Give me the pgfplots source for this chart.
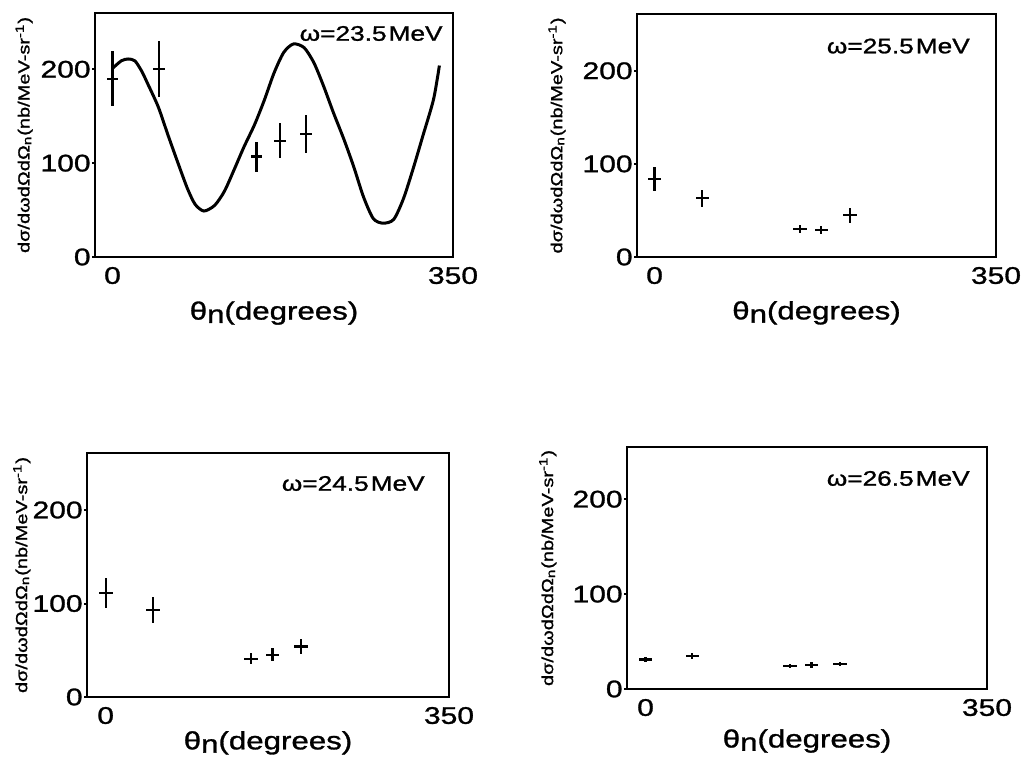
\documentclass[border=0pt]{standalone}
\usepackage{fontspec}
\setmainfont{Liberation Sans}[FakeStretch=1.25, FakeBold=1.2]
\usepackage{pgfplots}
\pgfplotsset{compat=1.18}
\pgfplotsset{
  panel/.style={
    scale only axis,
    anchor=south west,
    xmin=-18, xmax=350, ymin=0,
    axis line style={line width=1pt},
    xtick={0,350}, xticklabels={0,350},
    ytick={0,100,200}, yticklabels={0,100,200},
    tick align=outside,
    major tick length=1.5pt,
    xtick style={draw=none},
    ytick style={line width=1pt, black},
    xtick pos=bottom, ytick pos=left,
    ticklabel style={font=\fontsize{12}{14}\selectfont},
    yticklabel style={inner sep=0.5pt},
    xlabel={θ\raisebox{-0.25ex}{n}(degrees)},
    xlabel style={font=\fontsize{12.5}{14}\selectfont, at={(axis description cs:0.5,-0.23)}, anchor=center},
    ylabel={dσ/dωdΩdΩ\textsubscript{n}(nb/MeV-sr\textsuperscript{-1})},
    ylabel style={font=\fontsize{8}{9}\selectfont, anchor=center},
  },
  data/.style={draw=none, mark=none, forget plot,
    error bars/.cd, x dir=both, x explicit, y dir=both, y explicit,
    error mark=none, error bar style={line width=1.1pt, draw=black, solid}},
}
\tikzset{lbl/.style={anchor=east, inner sep=0pt, font=\fontsize{10.5}{12}\selectfont}}
\pgfplotstableread{
x y ex ey
0 190 6 29
48 200 6 30
148 107 6 16
172 124 6 19
199 131 6 20
}\dataA
\pgfplotstableread{
x y ex ey
0 84 7 13
49 63 7 9
149 30 7 4
171 29 7 4
200 45 7 8
}\dataB
\pgfplotstableread{
x y ex ey
0 111 7 16
48 93 7 14
148 41 7 6
170 45 7 7
199 54 7 8
}\dataC
\pgfplotstableread{
x y ex ey
0 31 7 3
48 35 7 3
148 24 7 2
170 25 7 3
199 26.5 7 2
}\dataD
\begin{document}
\begin{tikzpicture}
\useasboundingbox (0pt,0pt) rectangle (511pt,379pt);
% top left
\begin{axis}[panel, at={(47.5pt,250.5pt)}, width=179pt, height=122pt, ymax=260,
  ylabel style={at={(axis description cs:-0.198,0.5)}}]
\addplot[black, line width=1.5pt, smooth, tension=0.45] coordinates {
(0,201) (9,209) (16,211) (23,209) (30,198) (36,185) (47,160) (57,130) (67,101)
(77,73) (85,56) (94,49) (105,55) (115,70) (125,93) (135,117) (146,141) (156,167)
(166,196) (176,218) (186,227) (197,223) (207,207) (217,182) (227,154) (238,125)
(248,96) (258,64) (268,41) (278,36) (289,40) (299,62) (309,94) (319,129) (330,168) (336,204)};
\addplot[data] table[x=x, y=y, x error=ex, y error=ey] {\dataA};
\node[lbl] at (axis description cs:0.972,0.916) {ω=23.5\kern1ptMeV};
\end{axis}
% top right
\begin{axis}[panel, at={(318.5pt,250.5pt)}, width=179.5pt, height=121.5pt, ymax=261,
  ylabel style={at={(axis description cs:-0.223,0.5)}}]
\addplot[data] table[x=x, y=y, x error=ex, y error=ey] {\dataB};
\node[lbl] at (axis description cs:0.928,0.868) {ω=25.5\kern1ptMeV};
\end{axis}
% bottom left
\begin{axis}[panel, at={(43.5pt,30.5pt)}, width=181pt, height=122pt, ymax=261, xmin=-19,
  ylabel style={at={(axis description cs:-0.18,0.5)}},
  xlabel style={at={(axis description cs:0.5,-0.188)}}]
\addplot[data] table[x=x, y=y, x error=ex, y error=ey] {\dataC};
\node[lbl] at (axis description cs:0.934,0.875) {ω=24.5\kern1ptMeV};
\end{axis}
% bottom right
\begin{axis}[panel, at={(313.5pt,34.5pt)}, width=180pt, height=121pt, ymax=255, xmin=-19,
  ylabel style={at={(axis description cs:-0.22,0.5)}},
  xlabel style={at={(axis description cs:0.5,-0.215)}}]
\addplot[data] table[x=x, y=y, x error=ex, y error=ey] {\dataD};
\node[lbl] at (axis description cs:0.953,0.870) {ω=26.5\kern1ptMeV};
\end{axis}
\end{tikzpicture}
\end{document}
